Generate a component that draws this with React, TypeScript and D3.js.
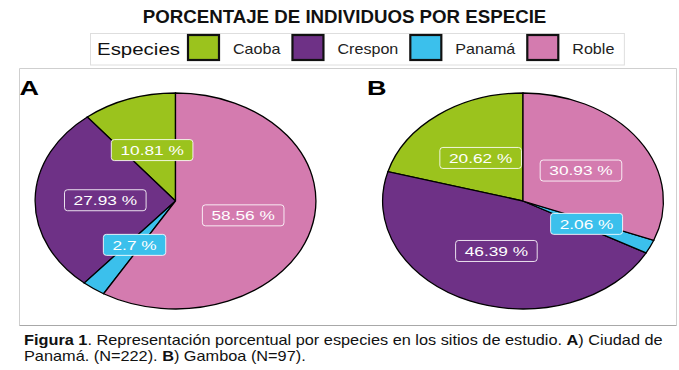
import React, { useEffect, useRef } from "react";
import * as d3 from "d3";

const W = 679;
const H = 370;
const FONT = "'Liberation Sans', Arial, Helvetica, sans-serif";
// the figure was stretched sideways, pies and labels included
const STRETCH = 1.3;

const species = ["Caoba", "Crespon", "Panamá", "Roble"];
const speciesColors = ["#9bc31d", "#6e3186", "#3bc0ec", "#d47baf"];
const pctCiudad = [10.81, 27.93, 2.7, 58.56];
const pctGamboa = [20.62, 46.39, 2.06, 30.93];
const panelNames = ["A", "B"];
const panelData = [pctCiudad, pctGamboa];
const titleText = "PORCENTAJE DE INDIVIDUOS POR ESPECIE";
const legendTitle = "Especies";
const captionLine1 = [
  { t: "Figura 1", b: true },
  { t: ". Representación porcentual por especies en los sitios de estudio. ", b: false },
  { t: "A", b: true },
  { t: ") Ciudad de", b: false },
];
const captionLine2 = [
  { t: "Panamá. (N=222). ", b: false },
  { t: "B", b: true },
  { t: ") Gamboa (N=97).", b: false },
];

// put text at (x,y) and squeeze/stretch it horizontally to a given width
function fitText(parent, x, y, width, build) {
  const g = parent.append("g").attr("transform", `translate(${x},${y})`);
  const t = g.append("text").attr("font-family", FONT);
  build(t);
  const w = (t.node() as SVGTextElement).getComputedTextLength();
  t.attr("transform", `scale(${width / w},1)`);
  return width / w;
}

export default function App() {
  const svgRef = useRef<SVGSVGElement>(null);

  useEffect(() => {
    const svg = d3.select(svgRef.current);
    svg.selectAll("*").remove();

    // title
    svg
      .append("text")
      .attr("x", 344.5)
      .attr("y", 22.5)
      .attr("text-anchor", "middle")
      .attr("font-family", FONT)
      .attr("font-weight", "bold")
      .attr("font-size", 18.7)
      .attr("fill", "#111")
      .text(titleText);

    // legend
    const legend = svg.append("g");
    const legendBox = legend
      .append("rect")
      .attr("y", 33.5)
      .attr("height", 31.5)
      .attr("fill", "#fff")
      .attr("stroke", "#dedede");
    const legLeft = 90.5;
    fitText(legend, 97, 55, 83, (t) =>
      t.attr("font-size", 16.5).attr("fill", "#111").text(legendTitle)
    );
    let lx = 188;
    species.forEach((name, i) => {
      legend
        .append("rect")
        .attr("x", lx)
        .attr("y", 35)
        .attr("width", 31)
        .attr("height", 25)
        .attr("fill", speciesColors[i])
        .attr("stroke", "#111")
        .attr("stroke-width", 2.2);
      const g = legend.append("g").attr("transform", `translate(${lx + 45},54)`);
      const t = g
        .append("text")
        .attr("font-family", FONT)
        .attr("font-size", 14)
        .attr("fill", "#222")
        .text(name);
      const w = (t.node() as SVGTextElement).getComputedTextLength() * 1.15;
      t.attr("transform", "scale(1.15,1)");
      lx = lx + 45 + w + 12;
    });
    legendBox.attr("x", legLeft).attr("width", lx - 2 - legLeft);

    // panel frame
    const frameX0 = 19.5;
    const frameX1 = 676.5;
    const frameY0 = 68.5;
    const frameY1 = 325.5;
    svg
      .append("path")
      .attr("d", `M${frameX0},${frameY1}V${frameY0}H${frameX1}V${frameY1}`)
      .attr("fill", "none")
      .attr("stroke", "#cfcfcf");
    svg
      .append("line")
      .attr("x1", frameX0)
      .attr("x2", frameX1)
      .attr("y1", frameY1)
      .attr("y2", frameY1)
      .attr("stroke", "#a8a8a8")
      .attr("stroke-width", 1.2);

    // pie centres
    const panelX = d3.scalePoint().domain(panelNames).range([175.5, 523]);
    const R = 108;
    const cy = 201;
    const pie = d3
      .pie<number>()
      .sort(null)
      .startAngle(0)
      .endAngle(-2 * Math.PI);
    const arc = d3.arc<d3.PieArcDatum<number>>().innerRadius(0).outerRadius(R);

    panelNames.forEach((p, pi) => {
      const cx = panelX(p);

      fitText(svg, cx - 156, 95, 19.5, (t) =>
        t.attr("font-size", 19.5).attr("font-weight", "bold").attr("fill", "#000").text(p)
      );

      const g = svg
        .append("g")
        .attr("transform", `translate(${cx},${cy}) scale(${STRETCH},1)`);
      const arcs = pie(panelData[pi]);
      g.selectAll("path")
        .data(arcs)
        .join("path")
        .attr("d", arc)
        .attr("fill", (_, i) => speciesColors[i])
        .attr("stroke", "#000")
        .attr("stroke-width", 1.3)
        .attr("vector-effect", "non-scaling-stroke");

      const labels = g
        .selectAll("g.lab")
        .data(arcs)
        .join("g")
        .attr("class", "lab")
        .attr("transform", (d) => {
          const [x, y] = arc.centroid(d);
          return `translate(${x},${y})`;
        });
      const rects = labels.append("rect");
      const texts = labels
        .append("text")
        .attr("text-anchor", "middle")
        .attr("dy", "0.36em")
        .attr("font-family", FONT)
        .attr("font-size", 13.3)
        .attr("fill", "#fff")
        .text((d) => `${d.data} %`);
      rects.each(function (d, i) {
        const w = (texts.nodes()[i] as SVGTextElement).getComputedTextLength() + 14;
        d3.select(this)
          .attr("x", -w / 2)
          .attr("y", -10.5)
          .attr("width", w)
          .attr("height", 21)
          .attr("rx", 3 / STRETCH)
          .attr("ry", 3)
          .attr("fill", speciesColors[i])
          .attr("stroke", "#fff")
          .attr("stroke-opacity", 0.85)
          .attr("stroke-width", 1)
          .attr("vector-effect", "non-scaling-stroke");
      });
    });

    // caption
    const k = fitText(svg, 24, 345, 639, (t) => {
      t.attr("font-size", 14).attr("fill", "#111");
      captionLine1.forEach((s) =>
        t.append("tspan").attr("font-weight", s.b ? "bold" : "normal").text(s.t)
      );
    });
    const g2 = svg.append("g").attr("transform", "translate(24,361)");
    const t2 = g2
      .append("text")
      .attr("font-family", FONT)
      .attr("font-size", 14)
      .attr("fill", "#111")
      .attr("transform", `scale(${k},1)`);
    captionLine2.forEach((s) =>
      t2.append("tspan").attr("font-weight", s.b ? "bold" : "normal").text(s.t)
    );
  }, []);

  return (
    <svg
      ref={svgRef}
      width={W}
      height={H}
      style={{ position: "absolute", left: 0, top: 0, background: "#fff" }}
    />
  );
}
